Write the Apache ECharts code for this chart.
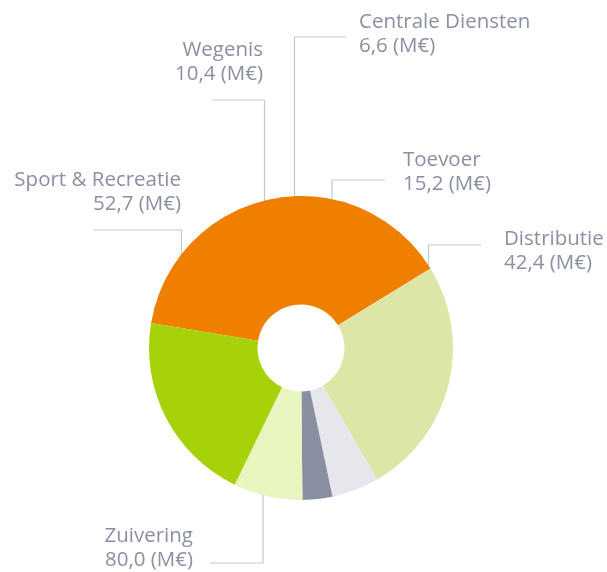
<!DOCTYPE html>
<html>
<head>
<meta charset="utf-8">
<script src="https://cdn.jsdelivr.net/npm/echarts@6/dist/echarts.min.js"></script>
<style>
html,body{margin:0;padding:0;background:#fff;}
#chart{width:607px;height:572px;}
</style>
</head>
<body>
<div id="chart"></div>
<script>
// Data (in slice order, clockwise)
var categories = ['Zuivering', 'Sport & Recreatie', 'Wegenis', 'Centrale Diensten', 'Toevoer', 'Distributie'];
var values = [80.0, 52.7, 10.4, 6.6, 15.2, 42.4];
var unit = '(M€)';

// Styling
var colors = ['#f07f00', '#dce6a6', '#e6e7ec', '#8a8ea1', '#e8f5bf', '#a7d20a'];

// Label placement (annotation layout as in the reference)
var labelLayouts = {
  'Zuivering':         {x: 193, y: 524.5, align: 'right', pts: [[263, 467], [263, 563], [210, 563]]},
  'Sport & Recreatie': {x: 181, y: 168.5, align: 'right', pts: [[181.5, 305], [181.5, 230], [94, 230]]},
  'Wegenis':           {x: 263, y: 38,    align: 'right', pts: [[264.5, 221], [264.5, 100], [212, 100]]},
  'Centrale Diensten': {x: 359, y: 10,    align: 'left',  pts: [[294.5, 222], [294.5, 37], [346, 37]]},
  'Toevoer':           {x: 403, y: 148,   align: 'left',  pts: [[332, 235], [332, 180], [385, 180]]},
  'Distributie':       {x: 504, y: 227.5, align: 'left',  pts: [[428.5, 300], [428.5, 245], [481, 245]]}
};

var data = categories.map(function (c, i) {
  return {name: c, value: values[i], itemStyle: {color: colors[i]}};
});

var chart = echarts.init(document.getElementById('chart'), null, {renderer: 'canvas'});
chart.setOption({
  animation: false,
  series: [{
    type: 'pie',
    center: [301, 348],
    radius: [43.5, 152],
    startAngle: 170.5,
    clockwise: true,
    avoidLabelOverlap: false,
    data: data,
    itemStyle: {borderWidth: 0},
    emphasis: {disabled: true},
    label: {
      show: true,
      position: 'outside',
      color: '#8a8fa3',
      fontFamily: 'Open Sans',
      fontSize: 20.5,
      lineHeight: 24,
      formatter: function (p) {
        return p.name + '\n' + p.value.toFixed(1).replace('.', ',') + ' ' + unit;
      }
    },
    labelLine: {
      show: true,
      smooth: false,
      lineStyle: {color: '#c4c7cf', width: 1.2}
    },
    labelLayout: function (params) {
      var l = labelLayouts[categories[params.dataIndex]];
      return {
        x: l.x,
        y: l.y,
        align: l.align,
        verticalAlign: 'top',
        labelLinePoints: l.pts
      };
    }
  }]
});
</script>
</body>
</html>
